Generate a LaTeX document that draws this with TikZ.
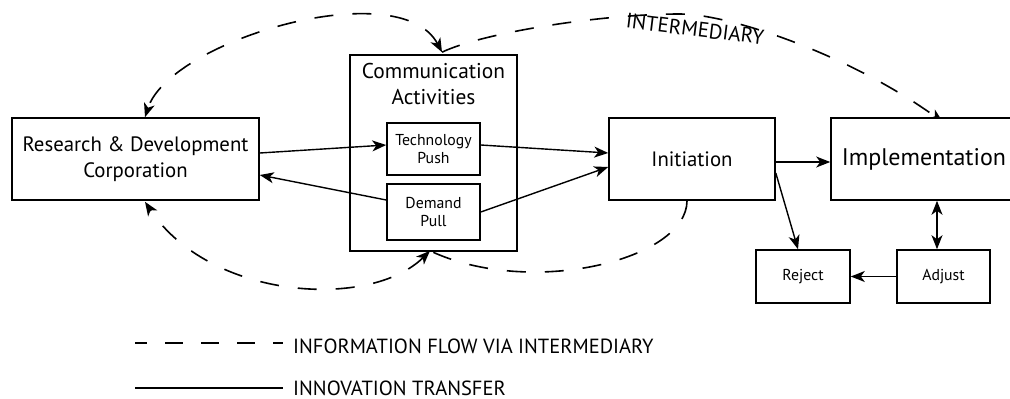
\documentclass[tikz,border=0pt]{standalone}
\usepackage{fontspec}
\setmainfont{PT Sans}
\usetikzlibrary{arrows.meta,calc}
\pgfdeclarelayer{bg}
\pgfsetlayers{bg,main}
\begin{document}
\begin{tikzpicture}[x=1pt,y=-1pt,
  box/.style={draw, line width=1.6pt, fill=white, inner sep=0pt, align=center},
  big/.style={font=\fontsize{20.8}{26}\selectfont},
  small/.style={font=\fontsize{15.8}{18.5}\selectfont},
  lgd/.style={font=\fontsize{20.5}{22}\selectfont, anchor=west, inner sep=0pt},
  tipa/.tip={Stealth[length=14pt,width=11pt,inset=4pt]},
  conn/.style={line width=1.4pt, -tipa},
  info/.style={line width=1.6pt, dash pattern=on 19pt off 19pt},
]
\useasboundingbox (0,0) rectangle (1010,399);
% nodes
\node[box, big, minimum width=247pt, minimum height=82pt] (rd) at (135.5,159) {Research \& Development\\Corporation};
\node[box, minimum width=167pt, minimum height=196pt] (comm) at (433.5,153) {};
\node[align=center, inner sep=0pt, font=\fontsize{21.4}{26}\selectfont] (commlbl) at (433.5,84) {Communication\\Activities};
\node[box, small, minimum width=93pt, minimum height=52pt] (tp) at (433.5,149) {Technology\\Push};
\node[box, small, minimum width=93pt, minimum height=56pt] (dp) at (433.5,212) {Demand\\Pull};
\node[box, big, minimum width=166pt, minimum height=82pt] (init) at (692,159) {Initiation};
\node[box, font=\fontsize{24}{26}\selectfont, minimum width=186pt, minimum height=82pt] (impl) at (924,159) {Implementation};
\node[box, small, minimum width=94pt, minimum height=53pt] (rej) at (803,276.5) {Reject};
\node[box, small, minimum width=93pt, minimum height=53pt] (adj) at (943.5,276.5) {Adjust};
\node[font=\fontsize{21}{22}\selectfont, rotate=-7, inner sep=0pt] (interm) at (695,29) {INTERMEDIARY};
% solid connectors
\draw[conn] ([yshift=6pt]rd.east) -- ([yshift=4pt]tp.west);
\draw[conn] ([yshift=12pt]dp.west) -- ([yshift=-16pt]rd.east);
\draw[conn] ([yshift=4pt]tp.east) -- ([yshift=6pt]init.west);
\draw[conn] (dp.east) -- ([yshift=-8pt]init.west);
\draw[conn] ([yshift=-3pt]init.east) -- ([yshift=-3pt]impl.west);
\draw[conn] ([yshift=-14pt]init.east) -- ([xshift=-5pt]rej.north);
\draw[conn] (adj.west) -- (rej.east);
\draw[line width=1.4pt, tipa-tipa] ([xshift=-6.5pt]adj.north) -- ([xshift=-6.5pt]adj.north |- impl.south);
% dashed information flow
\coordinate (ct) at ($(comm.north)+(8.5,-2)$);
\coordinate (cb) at ($(comm.south)+(-3.5,-1)$);
\coordinate (rdt) at ($(rd.north)+(9.5,0)$);
\coordinate (rdb) at ($(rd.south)+(9.5,1)$);
\coordinate (it) at ($(impl.north)+(19,5)$);
\coordinate (ib) at ($(init.south)+(-5,0)$);
\coordinate (pk) at (680,14);
\begin{pgfonlayer}{bg}
\draw[info, tipa-tipa] (ct) .. controls (400,-27) and (170,40) .. (rdt);
\draw[info, -tipa] (ct) .. controls (482,33) and (600,14) .. (pk) .. controls (730,14) and (850,55) .. (it);
\draw[info] (ib) .. controls (687,260) and (530,298) .. (cb);
\draw[info, tipa-tipa] (cb) .. controls (370,310) and (210,300) .. (rdb);
\end{pgfonlayer}
% legend
\coordinate (l1) at (135,343);
\coordinate (l2) at (135,388);
\node[lgd] (lg1) at (293,346) {INFORMATION FLOW VIA INTERMEDIARY};
\node[lgd] (lg2) at (293,388) {INNOVATION TRANSFER};
\draw[line width=1.6pt, dash pattern=on 18pt off 18pt, dash phase=6pt] (l1) -- ($(l1 -| lg1.west)+(-10,0)$);
\draw[line width=1.4pt] (l2) -- ($(l2 -| lg2.west)+(-10,0)$);
\end{tikzpicture}
\end{document}
